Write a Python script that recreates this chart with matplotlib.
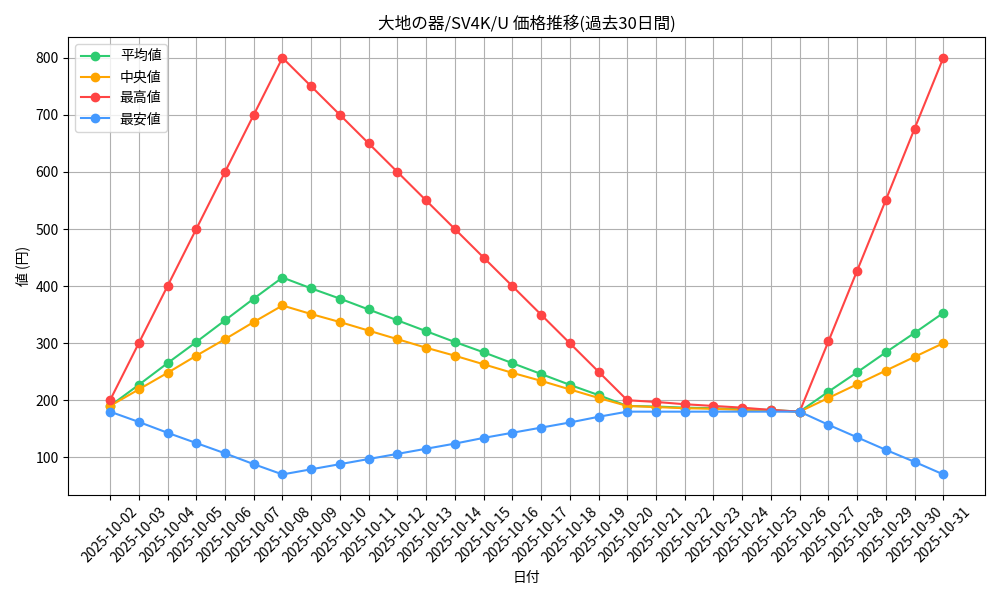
import matplotlib
matplotlib.use("Agg")
import matplotlib.pyplot as plt

plt.rcParams['font.family'] = ['Noto Sans CJK JP', 'DejaVu Sans']

dates = [f"2025-10-{d:02d}" for d in range(2, 32)]
avg = [190,227,265,302,340,378,415,396,378,359,340,321,302,284,265,246,227,209,190,189,187,186,184,183,180,215,249,284,318,353]
med = [190,219,248,278,307,337,366,351,337,322,307,292,278,263,248,234,219,204,190,188,186,185,183,182,180,204,228,252,276,300]
mx = [200,300,400,500,600,700,800,750,700,650,600,550,500,450,400,350,300,250,200,197,193,190,187,183,180,303,427,551,676,800]
mn = [180,162,143,125,107,88,70,79,88,97,106,115,124,134,143,152,161,171,180,180,180,180,180,180,180,157,135,113,92,70]

fig, ax = plt.subplots(figsize=(10, 6), dpi=100)
ax.plot(dates, avg, marker='o', color='#2ecc71', label='平均値')
ax.plot(dates, med, marker='o', color='#ffa500', label='中央値')
ax.plot(dates, mx, marker='o', color='#ff4444', label='最高値')
ax.plot(dates, mn, marker='o', color='#4499ff', label='最安値')
ax.set_title('大地の器/SV4K/U 価格推移(過去30日間)')
ax.set_xlabel('日付')
ax.set_ylabel('値 (円)')
ax.grid(True)
ax.legend(loc='upper left')
plt.xticks(rotation=45)
plt.tight_layout()
plt.savefig('out.png')
